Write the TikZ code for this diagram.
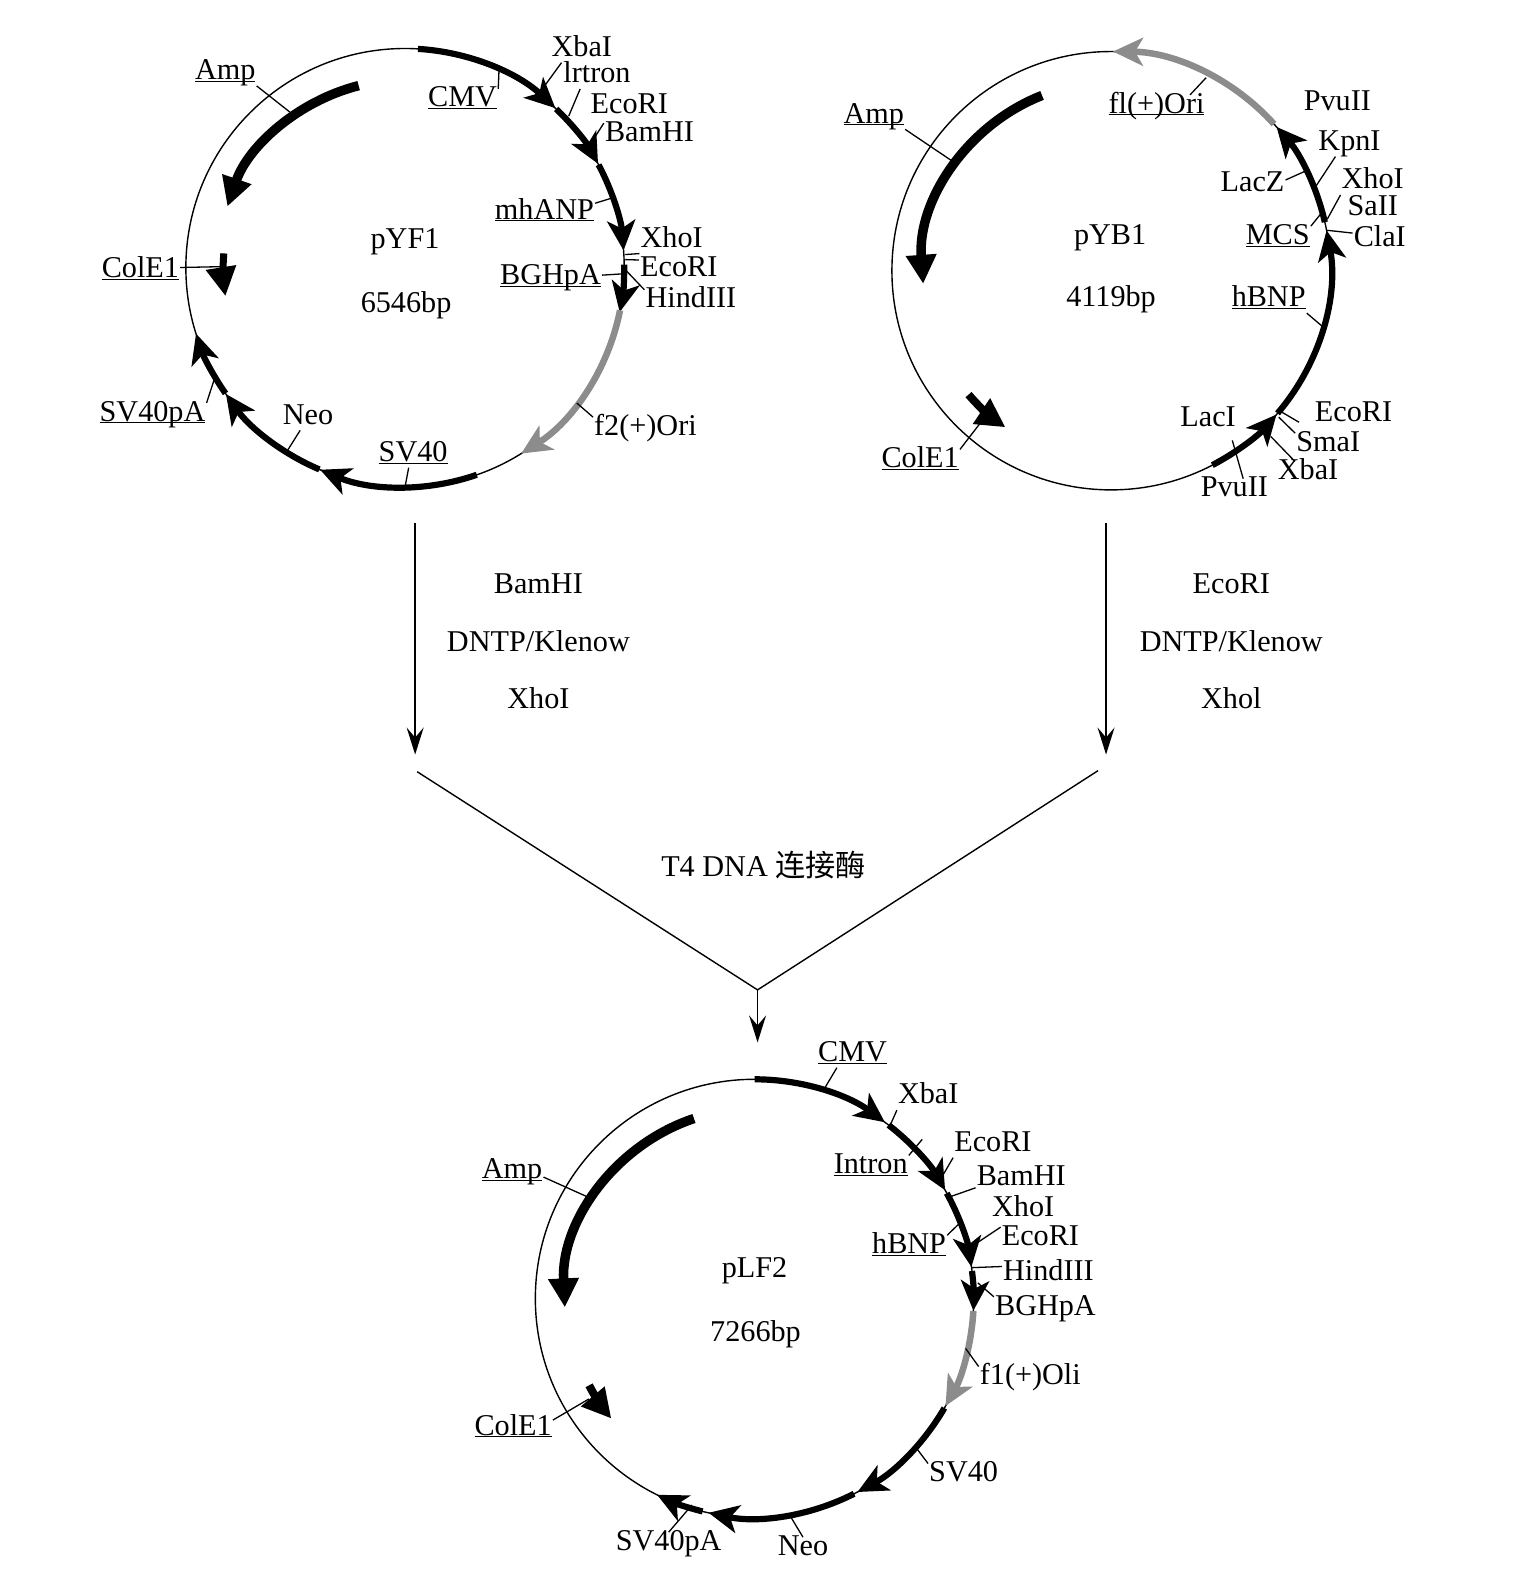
\documentclass[tikz,border=0pt]{standalone}
\usepackage{fontspec}
\setmainfont{Liberation Serif}
\newfontfamily\cjkfont{Noto Sans CJK SC}
\usetikzlibrary{arrows.meta}
\newcommand{\ul}[1]{\underline{\smash{#1}}}
\tikzset{
	lab/.style={font=\fontsize{30.2}{30.2}\selectfont, inner sep=1pt, text height=17pt, text depth=5pt, yshift=-4pt},
	lead/.style={line width=1.3pt, black},
	ring/.style={line width=1.4pt, black},
	flow/.style={line width=1.4pt, black, -{Stealth[length=27pt,width=17pt,inset=10pt]}},
	gene/.style={line width=6.2pt, black, -{Stealth[length=30pt,width=28pt,inset=8pt]}},
	gate/.style={line width=6.5pt, gray!90, -{Stealth[length=30pt,width=28pt,inset=8pt]}},
	marker/.style={line width=9.5pt, black, -{Stealth[length=29pt,width=29pt,inset=0pt]}},
}
\begin{document}
\begin{tikzpicture}[x=1.0101pt,y=-1.0101pt]
	\useasboundingbox (0,0) rectangle (1520.6,1567.2);
	\coordinate (cA) at (401,265);
	\coordinate (cB) at (1100,268);
	\coordinate (cC) at (747,1285.5);

	% pYF1
	\draw[ring] (cA) circle (217);
	\foreach \a/\b in {-86.6/-46.7, -46.4/-28.3, -28/-4.5, -0.8/11.7, 70.9/112.8, 113/144.8, 145/162.5}
		\draw[gene] (cA) ++(\a:217) arc (\a:\b:217);
	\draw[gate] (cA) ++(11.2:217) arc (11.2:58:217);
	\draw[marker] (cA) ++(-104.3:186) arc (-104.3:-161:186);
	\draw[marker, line width=7pt] (cA) ++(-175.5:180) arc (-175.5:-189:180);

	% pYB1
	\draw[ring] (cB) circle (217);
	\foreach \a/\b in {-12.8/-41, 40.6/-10.6, 62.5/41}
		\draw[gene] (cB) ++(\a:217) arc (\a:\b:217);
	\draw[gate] (cB) ++(-42:217) arc (-42:-89.5:217);
	\draw[marker] (cB) ++(-111.5:186.5) arc (-111.5:-184:186.5);
	\draw[marker, line width=8pt] (cB) ++(139:187) arc (139:124:187);

	% pLF2
	\draw[ring] (cC) circle (217);
	\foreach \a/\b in {-90/-53.5, -52.3/-29.6, -28.7/-8.3, -7.2/3.2, 30/62, 63/102.1, 103.7/116.4}
		\draw[gene] (cC) ++(\a:217) arc (\a:\b:217);
	\draw[gate] (cC) ++(3.3:217) arc (3.3:29.4:217);
	\draw[marker] (cC) ++(-108.6:188) arc (-108.6:-182.7:188);
	\draw[marker, line width=8pt] (cC) ++(152.3:185) arc (152.3:140:185);

	% labels
	\foreach \n/\x/\y/\txt in {
		aAmp/223/69/\ul{Amp}, aCMV/458/96/\ul{CMV}, aXba/576/46/XbaI, aIrt/591/72/lrtron,
		aEco/623/102/EcoRI, aBam/643/130/BamHI, aANP/539/207/\ul{mhANP}, aXho/665/235/XhoI,
		aEcoB/672/264/EcoRI, aBGH/545/272/\ul{BGHpA}, aHin/684/295/HindIII, aCol/139/265/\ul{ColE1},
		aSVp/151/407/\ul{SV40pA}, aNeo/305/410/Neo, aSV/409/447/\ul{SV40}, aOri/639/421/f2(+)Ori,
		aName/401/236/pYF1, aSize/402/299/6546bp,
		bOri/1145/102/\ul{fl(+)Ori}, bAmp/865/112/\ul{Amp}, bPvu/1324/99/PvuII, bKpn/1336/139/KpnI,
		bLac/1240/180/LacZ, bXho/1359/177/XhoI, bSal/1359/203/SaII, bMCS/1265/232/\ul{MCS},
		bCla/1366/234/ClaI, bBNP/1256/294/\ul{hBNP}, bEco/1340/407/EcoRI, bSma/1315/437/SmaI,
		bXba/1295/465/XbaI, bLacI/1196/412/LacI, bPvuB/1222/482/PvuII, bCol/911/453/\ul{ColE1},
		bName/1099/232/pYB1, bSize/1100/294/4119bp,
		cCMV/844/1041/\ul{CMV}, cXba/919/1083/XbaI, cEco/983/1130/EcoRI, cInt/862/1152/\ul{Intron},
		cBam/1011/1164/BamHI, cXho/1013/1194/XhoI, cEcoB/1030/1223/EcoRI, cBNP/900/1231/\ul{hBNP},
		cHin/1038/1258/HindIII, cBGH/1035/1292/BGHpA, cOri/1020/1361/f1(+)Oli, cSV/954/1457/SV40,
		cNeo/795/1530/Neo, cSVp/662/1525/SV40pA, cAmp/507/1157/\ul{Amp}, cCol/508/1411/\ul{ColE1},
		cName/747/1255/pLF2, cSize/748/1318/7266bp,
		lBam/533/578/BamHI, lDNT/533/635/{DNTP/Klenow}, lXho/533/692/XhoI,
		rEco/1219/578/EcoRI, rDNT/1219/635/{DNTP/Klenow}, rXho/1219/692/Xhol}
		\node[lab] (\n) at (\x,\y) {\txt};
	\node[lab] (tLig) at (756,858) {T4 DNA {\cjkfont 连接酶}};

	% leaders
	\foreach \n/\p/\x/\y in {
		aAmp/south east/287/111, aCMV/north east/494/70, aXba/211/537/88, aIrt/216/563/115,
		aBam/north west/583/145, aANP/11/606/196, aBGH/4/618/271, aXho/south west/619/252,
		aEcoB/165/619/257, aHin/north west/620/268, aCol/6/219/264, aSVp/north east/212/376,
		aNeo/237/284/447, aSV/250/401/482, aOri/north west/571/399,
		bOri/20/1194/77, bAmp/south east/945/161, bKpn/221/1303/184, bLac/10/1291/170,
		bXho/south west/1314/217, bMCS/north east/1309/210, bCla/165/1314/228,
		bBNP/south east/1309/323, bSma/north west/1266/413, bXba/137/1258/432,
		bPvuB/54/1220/436, bCol/north east/975/413,
		cCMV/218/816/1078, cXba/south west/880/1117, cEco/south west/932/1166,
		cInt/north east/913/1128, cBam/190/940/1185, cEcoB/north west/965/1232,
		cBNP/north east/950/1211, cHin/170/962/1255, cBGH/north west/968/1270,
		cOri/north west/956/1335, cSV/north west/906/1432, cNeo/north/783/1502,
		cSVp/north/685/1490, cAmp/352/584/1186, cCol/13/583/1385} {
		\coordinate (t\n) at (\x,\y);
		\draw[lead] (\n.\p) -- (t\n);
	}
	\coordinate (bTickA) at (1286,418);
	\coordinate (bTickB) at (1269,408);
	\draw[lead] (bTickA) -- (bTickB);

	% flow
	\coordinate (fLeft) at (411,518);
	\coordinate (fLeftEnd) at (411,747);
	\coordinate (fRight) at (1095,518);
	\coordinate (fRightEnd) at (1095,747);
	\coordinate (jLeft) at (413,764);
	\coordinate (jRight) at (1087,763);
	\coordinate (jMid) at (750,980);
	\coordinate (jEnd) at (750,1032);
	\draw[flow] (fLeft) -- (fLeftEnd);
	\draw[flow] (fRight) -- (fRightEnd);
	\draw[ring] (jLeft) -- (jMid) -- (jRight);
	\draw[flow] (jMid) -- (jEnd);
\end{tikzpicture}
\end{document}
